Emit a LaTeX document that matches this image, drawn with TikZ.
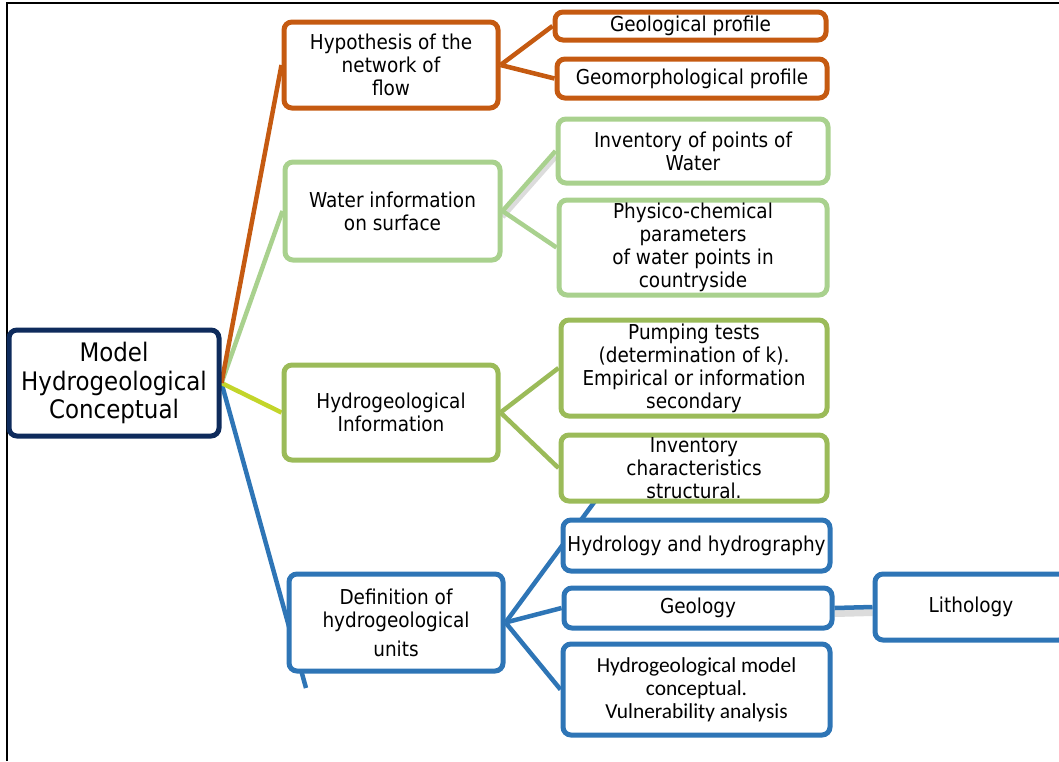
\documentclass[tikz,border=0pt]{standalone}
\usepackage{fontspec}
\setmainfont{DejaVu Sans}[FakeStretch=0.9]
\newfontfamily\calib{Carlito}
\definecolor{navyc}{HTML}{0E2B5C}
\definecolor{orangec}{HTML}{C55A11}
\definecolor{lgreen}{HTML}{A9D18E}
\definecolor{ogreen}{HTML}{9BBB59}
\definecolor{limec}{HTML}{C3D52A}
\definecolor{bluec}{HTML}{2E75B6}
\pgfdeclarelayer{bg}
\pgfsetlayers{bg,main}
\tikzset{
  box/.style={draw, rounded corners=8pt, fill=white, line width=5pt, align=center, inner sep=0pt,
    font=\fontsize{20.5}{23}\selectfont},
  conn/.style={line width=4.5pt},
  shadowline/.style={line width=8pt, draw=black!45, opacity=0.3},
}
\begin{document}
\begin{tikzpicture}[x=1pt,y=-1pt]
\useasboundingbox (0,0) rectangle (1059,761);
\draw[line width=2pt] (7,761) -- (7,2.5) -- (1059,2.5);

% main node
\node[box, draw=navyc, minimum width=210, minimum height=106,
  font=\fontsize{25.5}{28.5}\selectfont] (model) at (114,383) {Model\\Hydrogeological\\Conceptual};

% orange branch
\node[box, draw=orangec, minimum width=214, minimum height=86] (hyp) at (391,65) {Hypothesis of the\\network of\\flow};
\node[box, draw=orangec, minimum width=271, minimum height=28] (geo) at (690.5,26) {Geological profile};
\node[box, draw=orangec, minimum width=270, minimum height=39] (geom) at (692,78.5) {Geomorphological profile};

% light green branch
\node[box, draw=lgreen, minimum width=215, minimum height=98] (water) at (392.5,211) {Water information\\on surface};
\node[box, draw=lgreen, minimum width=270, minimum height=64] (inv) at (693,151) {Inventory of points of\\Water};
\node[box, draw=lgreen, minimum width=268, minimum height=95] (phys) at (693,247.5) {Physico-chemical\\parameters\\of water points in\\countryside};

% olive green branch
\node[box, draw=ogreen, minimum width=214, minimum height=95] (hinfo) at (391,412.5) {Hydrogeological\\Information};
\node[box, draw=ogreen, minimum width=266, minimum height=96] (pump) at (694,368) {Pumping tests\\(determination of k).\\Empirical or information\\secondary};
\node[box, draw=ogreen, minimum width=266, minimum height=66] (invc) at (694,468) {Inventory\\characteristics\\structural.};

% blue branch
\node[box, draw=bluec, minimum width=214, minimum height=97] (defn) at (396,622.5) {Definition of\\hydrogeological\\[6pt]units};
\node[box, draw=bluec, minimum width=267, minimum height=51] (hydrol) at (696.5,545.5) {Hydrology and hydrography};
\node[box, draw=bluec, minimum width=268, minimum height=40] (geol) at (698,608) {Geology};
\node[box, draw=bluec, minimum width=192, minimum height=66] (litho) at (971,607) {Lithology};
\node[box, draw=bluec, minimum width=267, minimum height=91,
  font=\calib\fontsize{21.4}{23}\selectfont] (mconc) at (696.5,689.5) {Hydrogeological model\\conceptual.\\Vulnerability analysis};

\coordinate (bend1) at (306,688);
\coordinate (bend2) at (598,497);

\begin{pgfonlayer}{bg}
  \draw[conn, bluec] (model.east) -- (bend1);
  \draw[conn, limec] (model.east) -- (hinfo.west);
  \draw[conn, lgreen] (model.east) -- (water.west);
  \draw[conn, orangec] (model.east) -- (hyp.west);

  \draw[conn, orangec] (hyp.east) -- (geo.west);
  \draw[conn, orangec] (hyp.east) -- (geom.west);

  \draw[shadowline] ([shift={(-1,5)}]water.east) -- ([shift={(-1,5)}]inv.west);
  \draw[conn, lgreen] (water.east) -- (inv.west);
  \draw[conn, lgreen] (water.east) -- (phys.west);

  \draw[conn, ogreen] (hinfo.east) -- (pump.west);
  \draw[conn, ogreen] (hinfo.east) -- (invc.west);

  \draw[conn, bluec] (defn.east) -- (bend2);
  \draw[conn, bluec] (defn.east) -- (geol.west);
  \draw[conn, bluec] (defn.east) -- (mconc.west);
  \draw[shadowline] ([shift={(0,5)}]geol.east) -- ([shift={(0,5)}]litho.west);
  \draw[conn, bluec] (geol.east) -- (litho.west);
\end{pgfonlayer}
\end{tikzpicture}
\end{document}
